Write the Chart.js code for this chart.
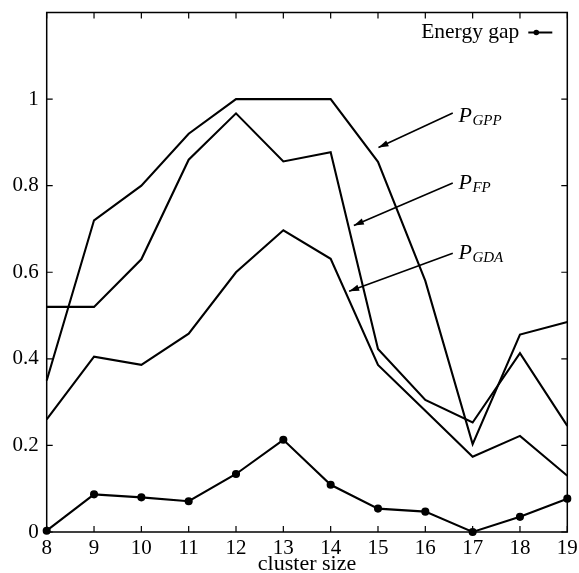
<!DOCTYPE html>
<html>
<head>
<meta charset="utf-8">
<script src="https://cdn.jsdelivr.net/npm/chart.js@4/dist/chart.umd.min.js"></script>
<style>
  html, body { margin: 0; padding: 0; background: #ffffff; }
  #wrap { width: 579px; height: 573px; }
</style>
</head>
<body>
<div id="wrap"><canvas id="c" width="579" height="573"></canvas></div>
<script>
// ---- data ----
const clusterSizes = [8, 9, 10, 11, 12, 13, 14, 15, 16, 17, 18, 19];
const energyGap = [0.003, 0.087, 0.080, 0.071, 0.134, 0.213, 0.109, 0.054, 0.047, 0.0, 0.035, 0.077];
const pGPP = [0.35, 0.72, 0.80, 0.92, 1.0, 1.0, 1.0, 0.855, 0.58, 0.203, 0.456, 0.485];
const pFP  = [0.52, 0.52, 0.63, 0.86, 0.967, 0.856, 0.877, 0.423, 0.305, 0.253, 0.413, 0.245];
const pGDA = [0.26, 0.405, 0.386, 0.458, 0.60, 0.697, 0.631, 0.386, 0.28, 0.174, 0.222, 0.13];
const xTicks = [8, 9, 10, 11, 12, 13, 14, 15, 16, 17, 18, 19];
const yTicks = [0, 0.2, 0.4, 0.6, 0.8, 1];
const xTitle = 'cluster size';
const legendLabel = 'Energy gap';
// annotation labels (main letter + subscript), text anchor and arrow (data units)
const annLabels = [['P', 'GPP'], ['P', 'FP'], ['P', 'GDA']];
const annTextX = [16.70, 16.70, 16.70];
const annTextY = [0.947, 0.793, 0.631];
const annFromX = [16.58, 16.58, 16.58];
const annFromY = [0.968, 0.806, 0.644];
const annToX = [15.01, 14.49, 14.39];
const annToY = [0.888, 0.708, 0.556];

const FONT = "'Liberation Serif', 'DejaVu Serif', serif";
const INK = '#000000';

function pts(arr) { return clusterSizes.map((x, i) => ({ x: x, y: arr[i] })); }

const framePlugin = {
  id: 'frame',
  afterDraw(chart) {
    const ctx = chart.ctx;
    const a = chart.chartArea;
    const xs = chart.scales.x, ys = chart.scales.y;
    ctx.save();
    // frame
    ctx.strokeStyle = INK;
    ctx.lineWidth = 1.5;
    ctx.strokeRect(a.left, a.top, a.right - a.left, a.bottom - a.top);
    // inward tick marks on all four sides
    const tl = 6;
    ctx.lineWidth = 1.2;
    ctx.beginPath();
    xTicks.forEach(v => {
      const px = xs.getPixelForValue(v);
      ctx.moveTo(px, a.bottom); ctx.lineTo(px, a.bottom - tl);
      ctx.moveTo(px, a.top); ctx.lineTo(px, a.top + tl);
    });
    yTicks.forEach(v => {
      const py = ys.getPixelForValue(v);
      ctx.moveTo(a.left, py); ctx.lineTo(a.left + tl, py);
      ctx.moveTo(a.right, py); ctx.lineTo(a.right - tl, py);
    });
    ctx.stroke();

    // legend (text then line-with-dot sample), top right inside plot
    ctx.fillStyle = INK;
    ctx.font = "21.5px " + FONT;
    ctx.textAlign = 'right';
    ctx.textBaseline = 'alphabetic';
    const lx = a.right - 48, ly = a.top + 25;
    ctx.fillText(legendLabel, lx, ly);
    ctx.lineWidth = 2;
    ctx.beginPath();
    ctx.moveTo(lx + 9, ly - 5); ctx.lineTo(lx + 33, ly - 5);
    ctx.stroke();
    ctx.beginPath();
    ctx.arc(lx + 17, ly - 5, 2.8, 0, Math.PI * 2);
    ctx.fill();

    // annotations: arrows + P labels with subscripts
    annLabels.forEach((lab, i) => {
      const x0 = xs.getPixelForValue(annFromX[i]), y0 = ys.getPixelForValue(annFromY[i]);
      const x1 = xs.getPixelForValue(annToX[i]), y1 = ys.getPixelForValue(annToY[i]);
      ctx.lineWidth = 1.6;
      ctx.beginPath();
      ctx.moveTo(x0, y0); ctx.lineTo(x1, y1);
      ctx.stroke();
      const ang = Math.atan2(y1 - y0, x1 - x0);
      const hl = 10, hw = 3.2;
      ctx.beginPath();
      ctx.moveTo(x1, y1);
      ctx.lineTo(x1 - hl * Math.cos(ang) + hw * Math.sin(ang), y1 - hl * Math.sin(ang) - hw * Math.cos(ang));
      ctx.lineTo(x1 - hl * Math.cos(ang) - hw * Math.sin(ang), y1 - hl * Math.sin(ang) + hw * Math.cos(ang));
      ctx.closePath();
      ctx.fill();

      const tx = xs.getPixelForValue(annTextX[i]), ty = ys.getPixelForValue(annTextY[i]);
      ctx.textAlign = 'left';
      ctx.font = "italic 22px " + FONT;
      ctx.fillText(lab[0], tx, ty);
      const w = ctx.measureText(lab[0]).width;
      ctx.font = "italic 15px " + FONT;
      ctx.fillText(lab[1], tx + w + 0.5, ty + 3);
    });
    ctx.restore();
  }
};

const lineStyle = {
  borderColor: INK,
  backgroundColor: INK,
  borderWidth: 2.1,
  pointRadius: 0,
  fill: false,
  tension: 0,
  clip: 10
};

new Chart(document.getElementById('c'), {
  type: 'line',
  data: {
    datasets: [
      Object.assign({ label: legendLabel, data: pts(energyGap) }, lineStyle, { pointRadius: 3, pointHoverRadius: 3 }),
      Object.assign({ label: 'P_GPP', data: pts(pGPP) }, lineStyle),
      Object.assign({ label: 'P_FP', data: pts(pFP) }, lineStyle),
      Object.assign({ label: 'P_GDA', data: pts(pGDA) }, lineStyle)
    ]
  },
  options: {
    responsive: false,
    animation: false,
    devicePixelRatio: 1,
    layout: { padding: { top: 12.5, right: 11.7, left: 0, bottom: 0 } },
    plugins: { legend: { display: false }, tooltip: { enabled: false } },
    scales: {
      x: {
        type: 'linear',
        min: 8, max: 19,
        afterBuildTicks: s => { s.ticks = xTicks.map(v => ({ value: v })); },
        afterFit: s => { s.height = 41; s.paddingLeft = 0; s.paddingRight = 0; },
        grid: { display: false, drawTicks: false },
        border: { display: false },
        ticks: { color: INK, font: { family: FONT, size: 21 }, padding: 4, maxRotation: 0, autoSkip: false },
        title: { display: true, text: xTitle, color: INK, font: { family: FONT, size: 22, lineHeight: 0.8 }, padding: { top: 0, bottom: 0 } }
      },
      y: {
        min: 0, max: 1.2,
        afterBuildTicks: s => { s.ticks = yTicks.map(v => ({ value: v })); },
        afterFit: s => { s.width = 46.7; s.paddingTop = 0; s.paddingBottom = 0; },
        grid: { display: false, drawTicks: false },
        border: { display: false },
        ticks: { color: INK, font: { family: FONT, size: 21 }, padding: 8, callback: v => String(+v.toFixed(1)) }
      }
    }
  },
  plugins: [framePlugin]
});
</script>
</body>
</html>
